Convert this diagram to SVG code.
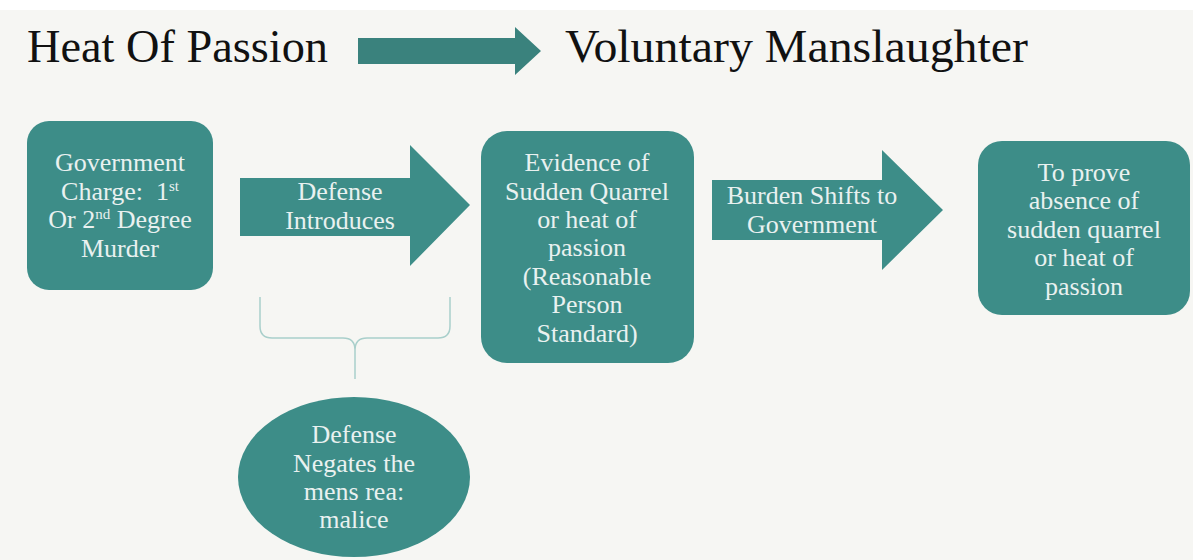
<svg xmlns="http://www.w3.org/2000/svg" width="1193" height="560" viewBox="0 0 1193 560">
<style>
.bg{fill:#f6f6f3}
.node{fill:#3d8d88}
.t{font-family:"Liberation Serif","Times New Roman",serif;font-size:26px;fill:#e9f1f0;text-anchor:middle}
.title{font-family:"Liberation Serif","Times New Roman",serif;font-size:47px;fill:#111}
.sup{font-size:15px}
.brace{fill:none;stroke:#a9cfcb;stroke-width:1.5}
</style>
<rect width="1193" height="560" class="bg"/>
<rect width="1193" height="10" fill="#ffffff"/>
<g id="title">
<text class="title" x="27" y="62" textLength="301" lengthAdjust="spacingAndGlyphs">Heat Of Passion</text>
<text class="title" x="565" y="62" textLength="463" lengthAdjust="spacingAndGlyphs">Voluntary Manslaughter</text>
</g>
<g id="connectors">
<polygon id="title-arrow" fill="#3a827d" points="358,38 515,38 515,27 541,51 515,75 515,64 358,64"/>
<g id="arrow-defense">
<polygon class="node" points="240,178 410,178 410,145 470,205 410,266 410,236 240,236"/>
<text class="t" x="340" y="200">Defense</text>
<text class="t" x="340" y="229">Introduces</text>
</g>
<g id="arrow-burden">
<polygon class="node" points="712,180 882,180 882,150 943,210 882,270 882,240 712,240"/>
<text class="t" x="812" y="204">Burden Shifts to</text>
<text class="t" x="812" y="233">Government</text>
</g>
<path id="brace" class="brace" d="M260,297 L260,326 Q260,338 272,338 L343,338 Q355,338 355,350 L355,379 M355,350 Q355,338 367,338 L438,338 Q450,338 450,326 L450,297"/>
</g>
<g id="node-charge">
<rect class="node" x="27" y="121" width="186" height="169" rx="22"/>
<text class="t" x="120" y="171">Government</text>
<text class="t" x="120" y="200" xml:space="preserve">Charge:  1<tspan class="sup" dy="-9">st</tspan></text>
<text class="t" x="120" y="228">Or 2<tspan class="sup" dy="-9">nd</tspan><tspan dy="9"> Degree</tspan></text>
<text class="t" x="120" y="257">Murder</text>
</g>
<g id="node-evidence">
<rect class="node" x="481" y="131" width="213" height="232" rx="26"/>
<text class="t" x="587" y="171">Evidence of</text>
<text class="t" x="587" y="200">Sudden Quarrel</text>
<text class="t" x="587" y="228">or heat of</text>
<text class="t" x="587" y="256">passion</text>
<text class="t" x="587" y="285">(Reasonable</text>
<text class="t" x="587" y="313">Person</text>
<text class="t" x="587" y="342">Standard)</text>
</g>
<g id="node-prove">
<rect class="node" x="978" y="141" width="212" height="174" rx="24"/>
<text class="t" x="1084" y="181">To prove</text>
<text class="t" x="1084" y="209">absence of</text>
<text class="t" x="1084" y="238">sudden quarrel</text>
<text class="t" x="1084" y="266">or heat of</text>
<text class="t" x="1084" y="295">passion</text>
</g>
<g id="node-negates">
<ellipse class="node" cx="354" cy="477" rx="116" ry="80"/>
<text class="t" x="354" y="443">Defense</text>
<text class="t" x="354" y="472">Negates the</text>
<text class="t" x="354" y="500">mens rea:</text>
<text class="t" x="354" y="528">malice</text>
</g>
</svg>
